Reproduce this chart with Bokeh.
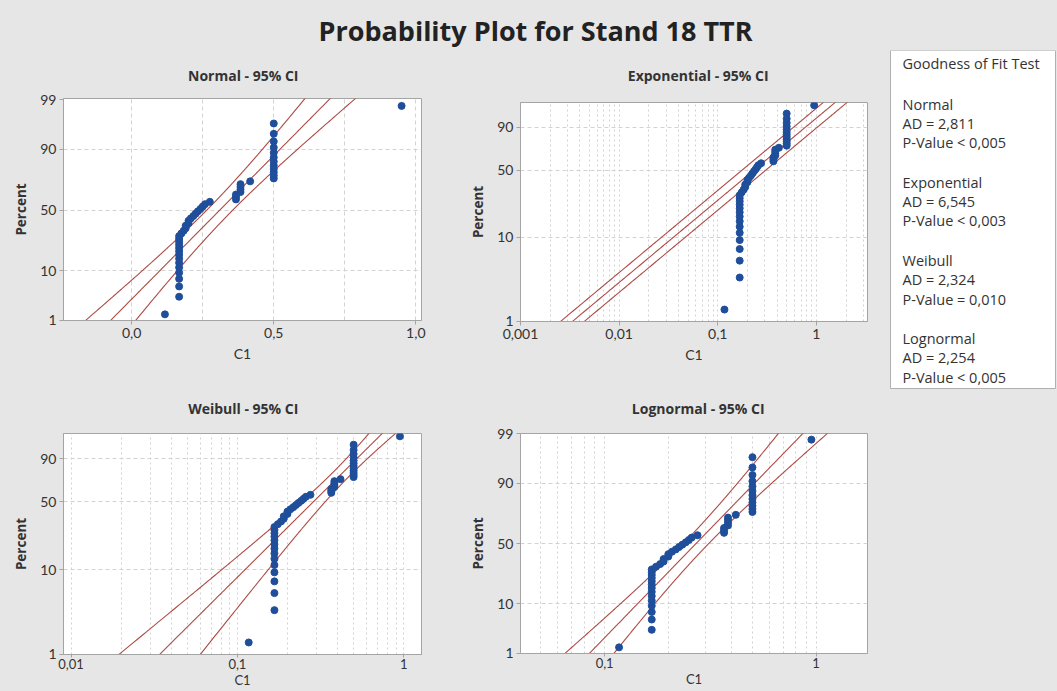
import math
from statistics import NormalDist
from bokeh.plotting import figure
from bokeh.layouts import column, row
from bokeh.models import FixedTicker, Range1d, CustomJSTickFormatter, Label
from bokeh.embed import file_html
from bokeh.resources import INLINE
from bokeh.core.properties import value

# ---------------- data ----------------
main_title = "Probability Plot for Stand 18 TTR"
panel_titles = ["Normal - 95% CI", "Exponential - 95% CI", "Weibull - 95% CI", "Lognormal - 95% CI"]
c1_values = [
    0.117,
    0.167, 0.167, 0.167, 0.167, 0.167, 0.167, 0.167,
    0.167, 0.167, 0.167, 0.167, 0.167, 0.167, 0.167,
    0.175, 0.183, 0.19, 0.19, 0.2, 0.2, 0.208,
    0.217, 0.225, 0.233, 0.242, 0.25, 0.258, 0.275,
    0.367, 0.367, 0.367, 0.383, 0.383, 0.383, 0.383,
    0.417,
    0.5, 0.5, 0.5, 0.5, 0.5, 0.5,
    0.5, 0.5, 0.5, 0.5, 0.5, 0.5,
    0.95,
]
percent_ticks_full = [1, 10, 50, 90, 99]
percent_ticks_short = [1, 10, 50, 90]
percent_grid = [10, 50, 90]
normal_x_ticks = [0.0, 0.5, 1.0]
normal_x_grid = [0.0, 0.25, 0.5, 0.75, 1.0]
exp_x_ticks = [0.001, 0.01, 0.1, 1]
weib_x_ticks = [0.01, 0.1, 1]
logn_x_ticks = [0.1, 1]

# fitted parameters
normal_mu, normal_sigma = 0.31, 0.165
expo_theta = 0.335
weib_shape, weib_scale = 1.99, 0.344
logn_loc, logn_scale = -1.307, 0.499

gof_header = "Goodness of Fit Test"
gof_names = ["Normal", "Exponential", "Weibull", "Lognormal"]
gof_ad = ["AD = 2,811", "AD = 6,545", "AD = 2,324", "AD = 2,254"]
gof_p = ["P-Value < 0,005", "P-Value < 0,003", "P-Value = 0,010", "P-Value < 0,005"]

# ---------------- styles ----------------
BG = "#e6e6e6"
FRAME = "#a4a4a4"
PT = "#1f4e9a"
LN = "#ad4a44"
GRID = "#d2d2d2"
TXT = "#333333"
FONT = "Lato"
HFONT = "Open Sans"

ND = NormalDist()


def t_norm(p):
    return ND.inv_cdf(p)


def t_sev(p):
    return math.log(-math.log(1.0 - p))


n = len(c1_values)
xs = sorted(c1_values)
pp = [(i + 1 - 0.3) / (n + 0.4) for i in range(n)]
pgrid = [0.0003 + k * (0.9994 / 600) for k in range(601)]
Z95 = 1.96


def blank_fig(width, height):
    f = figure(width=width, height=height, x_range=Range1d(0, width), y_range=Range1d(height, 0),
               output_backend="svg", toolbar_location=None, title=None, min_border=0)
    f.border_fill_color = BG
    f.background_fill_color = BG
    f.outline_line_color = None
    f.axis.visible = False
    f.grid.visible = False
    return f


def title_strip(width, height, text, xc, yc):
    f = blank_fig(width, height)
    f.add_layout(Label(x=xc, y=yc, text=text, text_align="center", text_baseline="middle",
                       text_font=HFONT, text_font_size="14px", text_font_style="bold",
                       text_color=TXT))
    return f


def base_panel(width, height, mb, xr, yr, x_log, bottom_row):
    p = figure(width=width, height=height, x_range=xr, y_range=yr,
               x_axis_type="log" if x_log else "linear",
               output_backend="svg", toolbar_location=None, title=None,
               min_border_left=mb[0], min_border_right=mb[1],
               min_border_top=mb[2], min_border_bottom=mb[3])
    p.border_fill_color = BG
    p.background_fill_color = "white"
    p.outline_line_color = FRAME
    for ax in (p.xaxis[0], p.yaxis[0]):
        ax.axis_line_color = FRAME
        ax.major_tick_line_color = FRAME
        ax.major_tick_out = 4
        ax.major_tick_in = 0
        ax.minor_tick_line_color = None
        ax.major_label_text_font = FONT
        ax.major_label_text_font_size = "14px"
        ax.major_label_text_color = TXT
        ax.major_label_standoff = 3
    p.yaxis.axis_label = "Percent"
    p.yaxis.axis_label_text_font = HFONT
    p.yaxis.axis_label_text_font_style = "bold"
    p.yaxis.axis_label_text_font_size = "13.5px"
    p.yaxis.axis_label_text_color = TXT
    p.yaxis.axis_label_standoff = 7
    p.xaxis.axis_label = "C1"
    p.xaxis.axis_label_text_font = FONT
    p.xaxis.axis_label_text_font_style = "normal"
    p.xaxis.axis_label_text_font_size = "14px"
    p.xaxis.axis_label_text_color = TXT
    p.xaxis.axis_label_standoff = 4
    if bottom_row:
        p.xaxis.major_tick_out = 3
        p.xaxis.major_label_standoff = 1
        p.xaxis.major_label_text_font_size = "13px"
        p.xaxis.axis_label_text_font_size = "13px"
        p.xaxis.axis_label_standoff = 0
    p.xgrid.grid_line_color = GRID
    p.xgrid.grid_line_dash = "2 3"
    p.ygrid.grid_line_color = GRID
    p.ygrid.grid_line_dash = "4 3"
    return p


def set_y(p, tf, pct_ticks):
    tv = [round(tf(q / 100.0), 4) for q in pct_ticks]
    p.yaxis.ticker = FixedTicker(ticks=tv)
    p.yaxis.major_label_overrides = {v: str(q) for v, q in zip(tv, pct_ticks)}
    p.ygrid.ticker = FixedTicker(ticks=[tf(q / 100.0) for q in percent_grid])


def minor_log(lo, hi):
    out = []
    d = 10.0 ** math.floor(math.log10(lo))
    while d <= hi:
        for k in range(1, 10):
            v = round(k * d, 6)
            if lo <= v <= hi:
                out.append(v)
        d *= 10
    return out


def draw_lines(p, xc, xu, xl, yv):
    for xx in (xu, xc, xl):
        p.line(xx, yv, line_color=LN, line_width=1.1)


dec_fmt = CustomJSTickFormatter(code="return tick.toString().replace('.', ',')")
pad = 0.004

# ---------------- Normal ----------------
pn = base_panel(466, 307, (63, 45, 10, 75),
                Range1d(-0.24, 1.02), Range1d(t_norm(0.01) - pad, t_norm(0.99) + 0.03), False, False)
set_y(pn, t_norm, percent_ticks_full)
pn.xaxis.ticker = FixedTicker(ticks=normal_x_ticks)
pn.xaxis.formatter = CustomJSTickFormatter(code="return tick.toFixed(1).replace('.', ',')")
pn.xgrid.ticker = FixedTicker(ticks=normal_x_grid)
pn.xgrid.grid_line_dash = "4 3"
zs = [t_norm(q) for q in pgrid]
cen = [normal_mu + normal_sigma * z for z in zs]
hw = [Z95 * normal_sigma / math.sqrt(n) * math.sqrt(1 + z * z / 2) for z in zs]
draw_lines(pn, cen, [c - h for c, h in zip(cen, hw)], [c + h for c, h in zip(cen, hw)], zs)
pn.scatter(xs, [t_norm(q) for q in pp], size=7, color=PT)

# ---------------- Exponential ----------------
pe = base_panel(414, 307, (45, 13, 14, 74),
                Range1d(0.001, 3.3), Range1d(t_sev(0.01) - pad, t_sev(0.99) + pad), True, False)
set_y(pe, t_sev, percent_ticks_short)
pe.xaxis.ticker = FixedTicker(ticks=exp_x_ticks)
pe.xaxis.formatter = dec_fmt
pe.xgrid.ticker = FixedTicker(ticks=minor_log(0.001, 3.3))
ws = [t_sev(q) for q in pgrid]
cen = [expo_theta * (-math.log(1 - q)) for q in pgrid]
f = math.exp(Z95 / math.sqrt(n))
draw_lines(pe, cen, [c / f for c in cen], [c * f for c in cen], ws)
pe.scatter(xs, [t_sev(q) for q in pp], size=7, color=PT)

# ---------------- Weibull ----------------
pw = base_panel(466, 268, (63, 45, 10, 37),
                Range1d(0.009, 1.28), Range1d(t_sev(0.01) - pad, t_sev(0.99) + pad), True, True)
set_y(pw, t_sev, percent_ticks_short)
pw.xaxis.ticker = FixedTicker(ticks=weib_x_ticks)
pw.xaxis.formatter = dec_fmt
pw.xgrid.ticker = FixedTicker(ticks=minor_log(0.009, 1.28))
b = 1.0 / weib_shape
lcen = [math.log(weib_scale) + w * b for w in ws]
lsd = [b / math.sqrt(n) * math.sqrt(1.1087 + 0.6079 * w * w - 2 * 0.2570 * w) for w in ws]
draw_lines(pw, [math.exp(c) for c in lcen],
           [math.exp(c - Z95 * s) for c, s in zip(lcen, lsd)],
           [math.exp(c + Z95 * s) for c, s in zip(lcen, lsd)], ws)
pw.scatter(xs, [t_sev(q) for q in pp], size=7, color=PT)

# ---------------- Lognormal ----------------
pl = base_panel(414, 268, (42, 13, 10, 38),
                Range1d(0.04, 1.75), Range1d(t_norm(0.01) - pad, t_norm(0.99) + pad), True, True)
set_y(pl, t_norm, percent_ticks_full)
pl.xaxis.ticker = FixedTicker(ticks=logn_x_ticks)
pl.xaxis.formatter = dec_fmt
pl.xgrid.ticker = FixedTicker(ticks=minor_log(0.04, 1.75))
lcen = [logn_loc + logn_scale * z for z in zs]
lhw = [Z95 * logn_scale / math.sqrt(n) * math.sqrt(1 + z * z / 2) for z in zs]
draw_lines(pl, [math.exp(c) for c in lcen],
           [math.exp(c - h) for c, h in zip(lcen, lhw)],
           [math.exp(c + h) for c, h in zip(lcen, lhw)], zs)
pl.scatter(xs, [t_norm(q) for q in pp], size=7, color=PT)

# ---------------- title strips ----------------
sn = title_strip(466, 38, panel_titles[0], 234, 25)
se = title_strip(414, 38, panel_titles[1], 212, 25)
sw = title_strip(466, 28, panel_titles[2], 234, 13)
sl = title_strip(414, 28, panel_titles[3], 212, 13)

tf_ = blank_fig(1057, 50)
tf_.add_layout(Label(x=535, y=30, text=main_title, text_align="center", text_baseline="middle",
                     text_font=HFONT, text_font_size="27px", text_font_style="bold",
                     text_color="#222222"))

# ---------------- Goodness of fit box ----------------
gf = blank_fig(177, 641)
gf.quad(left=[10], right=[175], top=[0], bottom=[338], fill_color="white",
        line_color="#b0b0b0", line_width=1)
gx, gy = [], []
gt = [gof_header]
gx.append(22)
gy.append(13)
for k in range(len(gof_names)):
    base = 53.5 + 78.2 * k
    for j, s in enumerate((gof_names[k], gof_ad[k], gof_p[k])):
        gt.append(s)
        gx.append(22)
        gy.append(base + 19.3 * j)
gf.text(x=gx, y=gy, text=gt, text_align="left", text_baseline="middle",
        text_font=value(HFONT), text_font_size="14.5px", text_color=TXT)

st = {"background-color": BG}
cell_n = column(sn, pn, styles=st)
cell_e = column(se, pe, styles=st)
cell_w = column(sw, pw, styles=st)
cell_l = column(sl, pl, styles=st)
grid = column(row(cell_n, cell_e, styles=st), row(cell_w, cell_l, styles=st), styles=st)
root = column(tf_, row(grid, gf, styles=st), styles=st)
open("out.html", "w").write(file_html(root, INLINE))
